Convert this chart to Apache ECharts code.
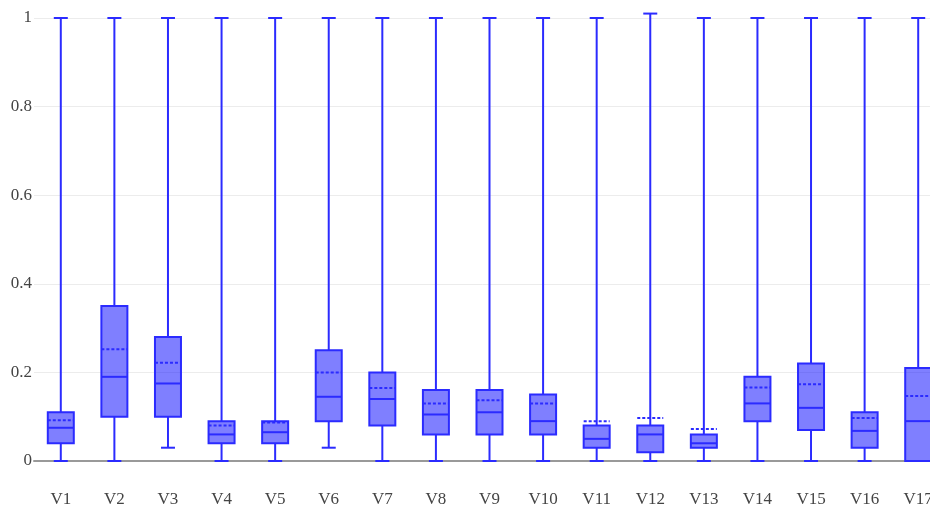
<!DOCTYPE html>
<html>
<head>
<meta charset="utf-8">
<script src="https://cdn.jsdelivr.net/npm/echarts@6/dist/echarts.min.js"></script>
<style>
  html, body { margin: 0; padding: 0; background: #fff; }
  #chart { width: 930px; height: 510px; }
</style>
</head>
<body>
<div id="chart"></div>
<script>
// Box statistics per variable
const categories = ['V1','V2','V3','V4','V5','V6','V7','V8','V9','V10','V11','V12','V13','V14','V15','V16','V17'];
const minVals    = [0, 0, 0.03, 0, 0, 0.03, 0, 0, 0, 0, 0, 0, 0, 0, 0, 0, 0];
const q1Vals     = [0.04, 0.10, 0.10, 0.04, 0.04, 0.09, 0.08, 0.06, 0.06, 0.06, 0.03, 0.02, 0.03, 0.09, 0.07, 0.03, 0];
const medianVals = [0.075, 0.19, 0.175, 0.06, 0.065, 0.145, 0.14, 0.105, 0.11, 0.09, 0.05, 0.06, 0.04, 0.13, 0.12, 0.068, 0.09];
const q3Vals     = [0.11, 0.35, 0.28, 0.09, 0.09, 0.25, 0.20, 0.16, 0.16, 0.15, 0.08, 0.08, 0.06, 0.19, 0.22, 0.11, 0.21];
const maxVals    = [1, 1, 1, 1, 1, 1, 1, 1, 1, 1, 1, 1.01, 1, 1, 1, 1, 1];
const meanVals   = [0.092, 0.252, 0.222, 0.08, 0.087, 0.20, 0.165, 0.13, 0.137, 0.13, 0.09, 0.097, 0.072, 0.166, 0.173, 0.097, 0.147];
const yTicks     = [0, 0.2, 0.4, 0.6, 0.8, 1];

const rows = categories.map((c, i) => [i, minVals[i], q1Vals[i], medianVals[i], q3Vals[i], maxVals[i], meanVals[i]]);

const LINE = '#2b2bff';
const FILL = 'rgba(0,0,255,0.5)';
const BOX_W = 26;
const CAP_W = 14;

function renderBox(params, api) {
  const idx = api.value(0);
  const pMin = api.coord([idx, api.value(1)]);
  const pQ1  = api.coord([idx, api.value(2)]);
  const pMed = api.coord([idx, api.value(3)]);
  const pQ3  = api.coord([idx, api.value(4)]);
  const pMax = api.coord([idx, api.value(5)]);
  const pMean = api.coord([idx, api.value(6)]);
  const x = pMed[0];
  const hb = BOX_W / 2, hc = CAP_W / 2;
  const lineStyle = { stroke: LINE, lineWidth: 2, fill: null };
  return {
    type: 'group',
    children: [
      { type: 'line', shape: { x1: x, y1: pQ3[1], x2: x, y2: pMax[1] }, style: lineStyle },
      { type: 'line', shape: { x1: x, y1: pQ1[1], x2: x, y2: pMin[1] }, style: lineStyle },
      { type: 'line', shape: { x1: x - hc, y1: pMax[1], x2: x + hc, y2: pMax[1] }, style: lineStyle },
      { type: 'line', shape: { x1: x - hc, y1: pMin[1], x2: x + hc, y2: pMin[1] }, style: lineStyle },
      { type: 'rect', shape: { x: x - hb, y: pQ3[1], width: BOX_W, height: pQ1[1] - pQ3[1] },
        style: { fill: FILL, stroke: LINE, lineWidth: 2 } },
      { type: 'line', shape: { x1: x - hb, y1: pMed[1], x2: x + hb, y2: pMed[1] }, style: lineStyle },
      { type: 'line', shape: { x1: x - hb, y1: pMean[1], x2: x + hb, y2: pMean[1] },
        style: { stroke: LINE, lineWidth: 2, lineDash: [3, 2], fill: null } }
    ]
  };
}

const chart = echarts.init(document.getElementById('chart'), null, { renderer: 'canvas' });
chart.setOption({
  animation: false,
  backgroundColor: '#fff',
  grid: { left: 34, top: 18, bottom: 49, width: 911, containLabel: false, outerBoundsMode: 'none' },
  xAxis: {
    type: 'category',
    data: categories,
    boundaryGap: true,
    axisTick: { show: false },
    axisLine: { show: true, lineStyle: { color: '#999', width: 2 } },
    axisLabel: { margin: 30, fontFamily: 'Liberation Serif', fontSize: 17, color: '#444' },
    splitLine: { show: false }
  },
  yAxis: {
    type: 'value',
    min: yTicks[0],
    max: yTicks[yTicks.length - 1],
    interval: 0.2,
    axisLine: { show: false },
    axisTick: { show: false },
    axisLabel: { margin: 2, fontFamily: 'Liberation Serif', fontSize: 17, color: '#444',
      formatter: v => String(Math.round(v * 10) / 10) },
    splitLine: { show: true, lineStyle: { color: '#ececec', width: 1 } }
  },
  series: [{
    type: 'custom',
    renderItem: renderBox,
    data: rows,
    encode: { x: 0, y: [1, 2, 3, 4, 5, 6] },
    clip: false
  }]
});
</script>
</body>
</html>
